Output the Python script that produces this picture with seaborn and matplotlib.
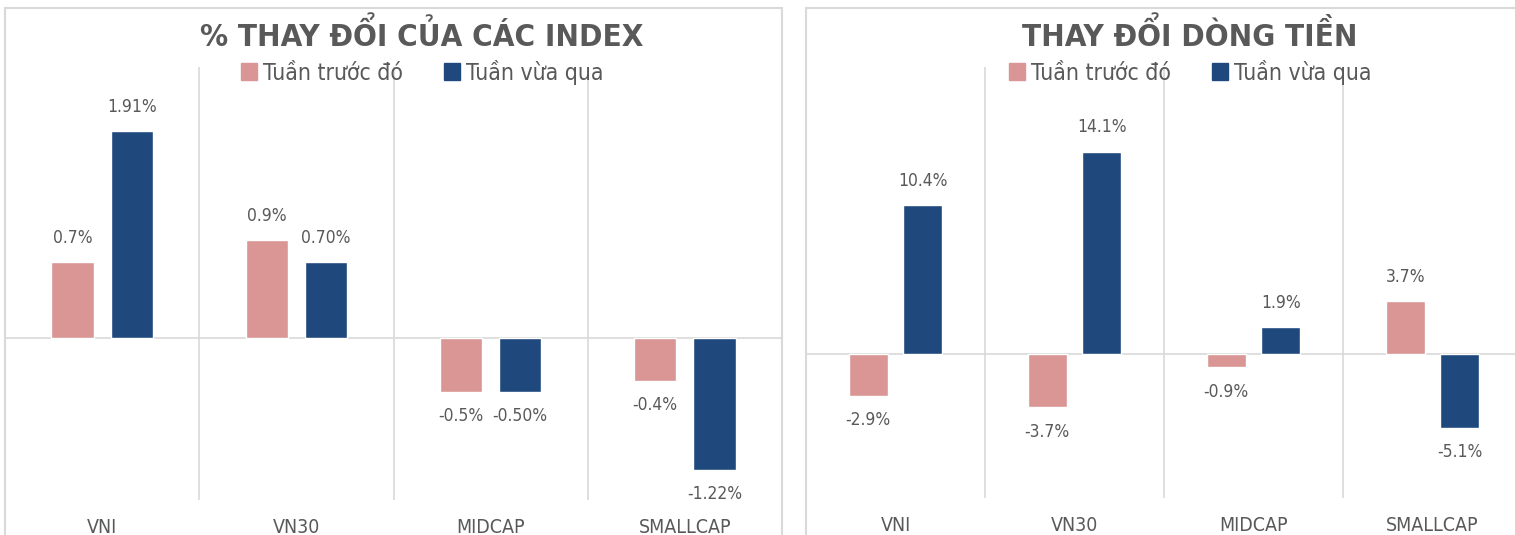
"""
Weekly index change and money-flow change, two bar panels side by side.
"""

import pandas as pd
import matplotlib
matplotlib.use('Agg')
import matplotlib.pyplot as plt
from matplotlib.patches import Rectangle
import seaborn as sns

# ---- data ---------------------------------------------------------------
categories = ['VNI', 'VN30', 'MIDCAP', 'SMALLCAP']
series = ['Tuần trước đó', 'Tuần vừa qua']

index_prev = [0.7, 0.9, -0.5, -0.4]
index_last = [1.91, 0.70, -0.50, -1.22]
index_prev_labels = ['0.7%', '0.9%', '-0.5%', '-0.4%']
index_last_labels = ['1.91%', '0.70%', '-0.50%', '-1.22%']

flow_prev = [-2.9, -3.7, -0.9, 3.7]
flow_last = [10.4, 14.1, 1.9, -5.1]
flow_prev_labels = ['-2.9%', '-3.7%', '-0.9%', '3.7%']
flow_last_labels = ['10.4%', '14.1%', '1.9%', '-5.1%']

# ---- style --------------------------------------------------------------
PINK = '#D99694'
BLUE = '#1F497D'
GRID = '#D9D9D9'
TEXT = '#595959'
W, H = 1515, 535

sns.set_style('white')
plt.rcParams['font.family'] = ['DejaVu Sans']
plt.rcParams['font.stretch'] = 'condensed'


def long_frame(prev, last):
    return pd.DataFrame({
        'category': categories * 2,
        'series': [series[0]] * len(categories) + [series[1]] * len(categories),
        'value': list(prev) + list(last),
    })


def draw_panel(ax, prev, last, prev_labels, last_labels, ylim):
    df = long_frame(prev, last)
    sns.barplot(
        data=df, x='category', y='value', hue='series',
        order=categories, hue_order=series,
        palette=[PINK, BLUE], saturation=1,
        width=0.61, gap=0.29, errorbar=None, ax=ax, zorder=3,
    )
    ax.set_xlim(-0.5, len(categories) - 0.5)
    ax.set_ylim(*ylim)
    ax.axhline(0, color=GRID, lw=1.2, zorder=2)
    ax.vlines([0.5, 1.5, 2.5], ylim[0], ylim[1], color=GRID, lw=1.2, zorder=1)

    for cont, labs in zip(ax.containers, [prev_labels, last_labels]):
        ax.bar_label(cont, labels=labs, padding=11, color=TEXT, fontsize=12.5)

    for s in ax.spines.values():
        s.set_visible(False)
    ax.set_yticks([])
    ax.set_xlabel('')
    ax.set_ylabel('')
    ax.tick_params(axis='x', length=0, pad=13, labelsize=14, labelcolor=TEXT)
    ax.get_legend().remove()


def px(x0, y_top, x1, y_bot):
    return [x0 / W, 1 - y_bot / H, (x1 - x0) / W, (y_bot - y_top) / H]


fig = plt.figure(figsize=(W / 100, H / 100), dpi=100)

# panel frames
fig.patches.append(Rectangle((5 / W, -0.1), 777 / W, 1.1 - 8 / H,
                             transform=fig.transFigure, fill=False,
                             edgecolor=GRID, lw=1.5))
fig.patches.append(Rectangle((806 / W, -0.1), 800 / W, 1.1 - 8 / H,
                             transform=fig.transFigure, fill=False,
                             edgecolor=GRID, lw=1.5))

ax1 = fig.add_axes(px(5, 67, 782, 500))
draw_panel(ax1, index_prev, index_last, index_prev_labels, index_last_labels,
           (-1.5, 2.5))

ax2 = fig.add_axes(px(806, 67, 1522, 498))
draw_panel(ax2, flow_prev, flow_last, flow_prev_labels, flow_last_labels,
           (-10, 20))

# titles and legends
for cx, title in [(422, '% THAY ĐỔI CỦA CÁC INDEX'),
                  (1190, 'THAY ĐỔI DÒNG TIỀN')]:
    fig.text(cx / W, 1 - 35 / H, title, ha='center', va='center',
             fontsize=22.5, fontweight='bold', color=TEXT)
    handles = [Rectangle((0, 0), 1, 1, color=c) for c in (PINK, BLUE)]
    fig.legend(handles, series, loc='center', ncol=2, frameon=False,
               bbox_to_anchor=(cx / W, 1 - 72 / H), fontsize=16.5,
               labelcolor=TEXT, handlelength=0.7, handleheight=0.7,
               handletextpad=0.25, columnspacing=1.8)

fig.savefig('out.png', dpi=100)
